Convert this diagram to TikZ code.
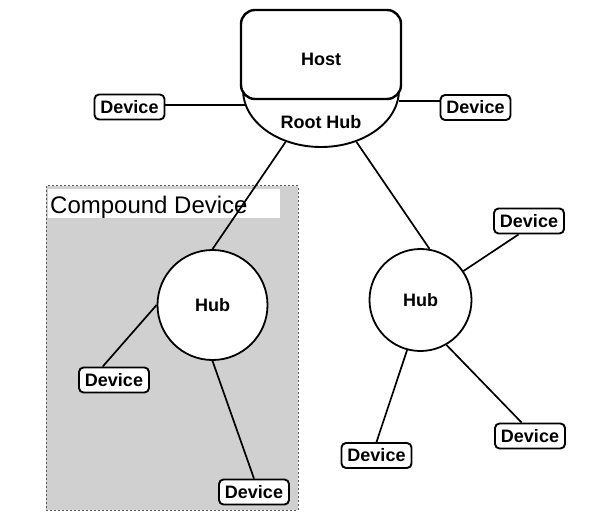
\documentclass[tikz,border=0pt]{standalone}
\usepackage{fontspec}
\setmainfont{Liberation Sans}
\usetikzlibrary{shapes.geometric}
\definecolor{cdgray}{RGB}{208,208,208}
\tikzset{
  dev/.style={rectangle,rounded corners=4.5bp,draw,line width=1.9bp,fill=white,
    minimum width=70bp,minimum height=25bp,inner sep=0pt,
    font=\fontsize{18bp}{20bp}\selectfont\bfseries},
  hub/.style={circle,draw,line width=1.8bp,fill=white,inner sep=0pt,
    font=\fontsize{18bp}{20bp}\selectfont\bfseries},
  wire/.style={line width=1.7bp}
}

\begin{document}
\begin{tikzpicture}[x=1bp,y=-1bp]
      \useasboundingbox (0,0) rectangle (602,525);
      % compound device area
      \draw[fill=cdgray,draw=gray!70!black,dash pattern=on 2bp off 2bp,line width=1bp]
        (46,186) rectangle (298,510);
      \fill[white] (48,189) rectangle (280,218);
      \node[anchor=base west,inner sep=0pt,font=\fontsize{24bp}{28bp}\selectfont]
        (CDl) at (50,214) {Compound Device};

      % host and root hub
      \node[ellipse,draw,line width=1.9bp,fill=white,minimum width=156bp,minimum height=114bp] (R) at (321,90) {};
      \node[rectangle,rounded corners=14bp,draw,line width=2.4bp,fill=white,
        minimum width=160bp,minimum height=89bp,text height=23bp,text depth=0pt,
        font=\fontsize{18bp}{20bp}\selectfont\bfseries] (Host) at (321,54.5) {Host};
      \node[inner sep=0pt,font=\fontsize{18bp}{20bp}\selectfont\bfseries] (RH) at (321,122) {Root Hub};

      \node[hub,minimum size=110bp] (H1) at (212.5,305) {Hub};
      \node[hub,minimum size=102bp] (H2) at (420.5,300) {Hub};

      \node[dev] (A) at (129.5,107) {Device};
      \node[dev] (B) at (475.5,107.5) {Device};
      \node[dev] (C) at (114,380) {Device};
      \node[dev] (D) at (254,492) {Device};
      \node[dev] (E) at (529,221) {Device};
      \node[dev] (F) at (376.5,455.5) {Device};
      \node[dev] (G) at (530,436) {Device};

\draw[wire] (R.191) -- (R.191 -| A.east);
\draw[wire] (R.-8) -- (R.-8 -| B.west);
\foreach \a/\b in {R/H1.north,R/H2.80,H1.west/C.130,H1.south/D.north,
                   H2.34/E.232,H2.255/F.north,H2.300/G.122}
  \draw[wire] (\a) -- (\b);
    \end{tikzpicture}
\end{document}
